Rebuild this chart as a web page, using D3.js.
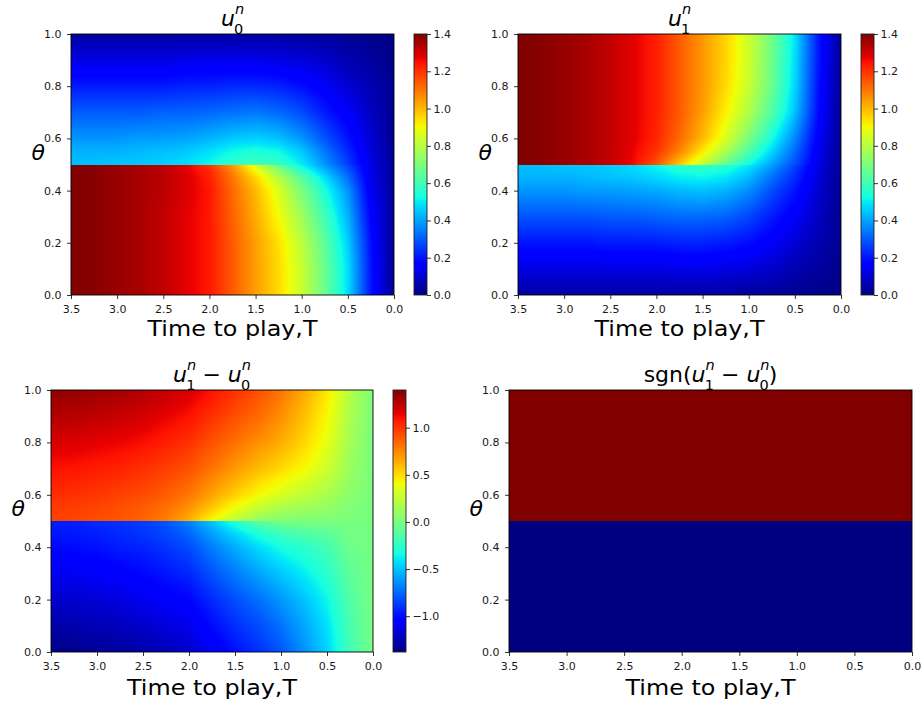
<!DOCTYPE html>
<html><head><meta charset="utf-8">
<script src="https://cdn.jsdelivr.net/npm/d3@7"></script>
<style>
body{margin:0;background:#fff}
svg{display:block}
text{font-family:"DejaVu Sans",sans-serif}
</style>
</head><body>
<svg id="chart" width="922" height="704"></svg>
<script>
// ---------------- data ----------------
const T_NODES = [3.5,3.25,3.0,2.75,2.5,2.25,2.0,1.75,1.5,1.25,1.0,0.75,0.5,0.25,0.0];
const THETA_LOWER = [0,0.1,0.2,0.3,0.4,0.45,0.5];
const THETA_UPPER = [0.5,0.55,0.6,0.7,0.8,0.9,1.0];

// u0 below theta=0.5 (rows follow THETA_LOWER, columns follow T_NODES)
const U0_LOWER = [
  [1.40,1.39,1.37,1.35,1.32,1.28,1.24,1.14,1.04,0.95,0.83,0.67,0.48,0.20,0.02],
  [1.40,1.39,1.37,1.35,1.32,1.28,1.24,1.14,1.04,0.95,0.83,0.67,0.48,0.20,0.02],
  [1.40,1.39,1.37,1.35,1.32,1.28,1.24,1.14,1.04,0.94,0.81,0.65,0.46,0.19,0.02],
  [1.40,1.39,1.37,1.35,1.32,1.28,1.24,1.13,1.02,0.90,0.76,0.60,0.42,0.17,0.03],
  [1.40,1.39,1.37,1.35,1.33,1.29,1.24,1.12,1.00,0.86,0.70,0.54,0.38,0.14,0.03],
  [1.40,1.39,1.37,1.35,1.33,1.29,1.23,1.10,0.96,0.80,0.64,0.48,0.33,0.13,0.03],
  [1.40,1.39,1.37,1.35,1.33,1.28,1.20,1.05,0.86,0.66,0.50,0.38,0.27,0.12,0.03]
];
// u0 above theta=0.5 (rows follow THETA_UPPER)
const U0_UPPER = [
  [0.44,0.44,0.45,0.45,0.46,0.48,0.52,0.57,0.60,0.58,0.50,0.38,0.26,0.12,0.03],
  [0.42,0.42,0.42,0.43,0.44,0.45,0.48,0.52,0.54,0.52,0.45,0.34,0.23,0.11,0.03],
  [0.38,0.38,0.38,0.39,0.39,0.40,0.42,0.45,0.46,0.44,0.38,0.29,0.20,0.10,0.02],
  [0.30,0.30,0.30,0.30,0.31,0.31,0.32,0.33,0.34,0.32,0.28,0.21,0.15,0.08,0.02],
  [0.21,0.21,0.21,0.21,0.21,0.22,0.22,0.23,0.23,0.22,0.19,0.15,0.10,0.06,0.02],
  [0.12,0.12,0.12,0.12,0.12,0.13,0.13,0.13,0.13,0.12,0.11,0.09,0.06,0.04,0.01],
  [0.04,0.04,0.04,0.04,0.04,0.04,0.04,0.04,0.04,0.04,0.03,0.03,0.02,0.01,0.01]
];
// u1 below theta=0.5
const U1_LOWER = [
  [0.04,0.04,0.04,0.04,0.04,0.04,0.04,0.04,0.04,0.04,0.03,0.03,0.02,0.01,0.01],
  [0.12,0.12,0.12,0.12,0.12,0.12,0.12,0.13,0.13,0.12,0.11,0.09,0.06,0.04,0.01],
  [0.20,0.20,0.20,0.20,0.21,0.21,0.21,0.22,0.22,0.21,0.19,0.15,0.10,0.06,0.02],
  [0.29,0.29,0.29,0.29,0.30,0.30,0.31,0.32,0.32,0.31,0.27,0.21,0.15,0.08,0.02],
  [0.38,0.38,0.38,0.39,0.39,0.40,0.41,0.43,0.44,0.42,0.37,0.28,0.20,0.10,0.02],
  [0.42,0.42,0.42,0.43,0.44,0.45,0.47,0.50,0.51,0.49,0.43,0.33,0.23,0.11,0.02],
  [0.44,0.44,0.45,0.45,0.46,0.48,0.52,0.56,0.58,0.56,0.50,0.39,0.27,0.12,0.02]
];
// u1 above theta=0.5
const U1_UPPER = [
  [1.40,1.39,1.37,1.35,1.32,1.26,1.15,0.98,0.82,0.66,0.52,0.40,0.28,0.13,0.02],
  [1.40,1.39,1.37,1.35,1.32,1.27,1.20,1.08,0.93,0.78,0.62,0.47,0.32,0.14,0.02],
  [1.40,1.39,1.37,1.35,1.32,1.28,1.22,1.12,1.00,0.86,0.70,0.53,0.36,0.16,0.02],
  [1.40,1.39,1.37,1.35,1.32,1.28,1.23,1.14,1.04,0.92,0.79,0.63,0.44,0.19,0.02],
  [1.40,1.39,1.37,1.35,1.32,1.28,1.23,1.14,1.05,0.95,0.83,0.67,0.47,0.20,0.02],
  [1.40,1.39,1.37,1.35,1.32,1.28,1.23,1.14,1.05,0.96,0.84,0.68,0.48,0.21,0.02],
  [1.40,1.39,1.37,1.35,1.32,1.28,1.23,1.14,1.05,0.96,0.84,0.68,0.49,0.21,0.02]
];
// sign panel: bands in theta and their values
const SGN_THETA = [0, 0.5, 1.0];
const SGN_VALUES = [-1, 1];

const X_TICKS = [3.5,3.0,2.5,2.0,1.5,1.0,0.5,0.0];
const Y_TICKS = [0.0,0.2,0.4,0.6,0.8,1.0];
const CB_TICKS_U = [0.0,0.2,0.4,0.6,0.8,1.0,1.2,1.4];
const CB_TICKS_DIFF = [-1.0,-0.5,0.0,0.5,1.0];
const U_RANGE = [0, 1.4];
const DIFF_RANGE = [-1.38, 1.40];
const SGN_RANGE = [-1, 1];
const X_LABEL = "Time to play,T";

// ---------------- jet colormap via d3 scales ----------------
const jetR = d3.scaleLinear().domain([0,0.35,0.66,0.89,1]).range([0,0,1,1,0.5]).clamp(true);
const jetG = d3.scaleLinear().domain([0,0.125,0.375,0.64,0.91,1]).range([0,0,1,1,0,0]).clamp(true);
const jetB = d3.scaleLinear().domain([0,0.11,0.34,0.65,1]).range([0.5,1,1,0,0]).clamp(true);
function jet(f){ return [Math.round(jetR(f)*255), Math.round(jetG(f)*255), Math.round(jetB(f)*255)]; }

// field evaluator built from a grid (lower + upper)
function makeField(lower, upper){
  const lowRows = lower.map(r => d3.scaleLinear().domain(T_NODES).range(r));
  const upRows = upper.map(r => d3.scaleLinear().domain(T_NODES).range(r));
  return function column(T){
    const lo = d3.scaleLinear().domain(THETA_LOWER).range(lowRows.map(s => s(T)));
    const up = d3.scaleLinear().domain(THETA_UPPER).range(upRows.map(s => s(T)));
    return th => th < 0.5 ? lo(th) : up(th);
  };
}
const fieldU0 = makeField(U0_LOWER, U0_UPPER);
const fieldU1 = makeField(U1_LOWER, U1_UPPER);
const fieldDiff = T => { const a = fieldU1(T), b = fieldU0(T); return th => a(th) - b(th); };

const svg = d3.select('#chart');
const TICK_COLOR = '#1a1a1a';

function styleAxis(g){
  g.select('.domain').remove();
  g.attr('font-family','DejaVu Sans').attr('font-size',11);
  g.selectAll('text').attr('fill',TICK_COLOR);
  g.selectAll('line').attr('stroke','#000').attr('stroke-width',0.8);
}

function addTitle(parts, cx, baseline){
  const t = svg.append('text').attr('x',cx).attr('y',baseline)
    .attr('text-anchor','middle').attr('font-size',22).attr('fill','#000');
  parts.forEach(p => {
    const s = t.append('tspan').text(p.t)
      .attr('font-style', p.it ? 'italic' : 'normal')
      .attr('font-size', p.sm ? 14.5 : 22);
    if (p.dx) s.attr('dx', p.dx);
    if (p.dy) s.attr('dy', p.dy);
  });
}
function mathU(sub){
  return [
    {t:'u', it:true},
    {t:'n', it:true, sm:true, dy:-12},
    {t:sub, sm:true, dx:-10, dy:20}
  ];
}

function panel(cfg){
  const {x0,x1,y0,y1} = cfg;
  const x = d3.scaleLinear().domain([3.5,0]).range([x0,x1]);
  const y = d3.scaleLinear().domain([0,1]).range([y1,y0]);
  const frac = d3.scaleLinear().domain(cfg.range).range([0,1]).clamp(true);
  const W = Math.round(x1-x0), H = Math.round(y1-y0);

  if (cfg.bands){
    svg.append('g').selectAll('rect').data(SGN_VALUES).join('rect')
      .attr('x', x0).attr('width', x1-x0)
      .attr('y', (d,i) => y(SGN_THETA[i+1]))
      .attr('height', (d,i) => y(SGN_THETA[i]) - y(SGN_THETA[i+1]))
      .attr('fill', d => d3.rgb(...jet(frac(d))).toString());
  } else {
    const cv = document.createElement('canvas');
    cv.width = W; cv.height = H;
    const ctx = cv.getContext('2d');
    const img = ctx.createImageData(W,H);
    for (let i=0;i<W;i++){
      const col = cfg.field(x.invert(x0+i+0.5));
      for (let j=0;j<H;j++){
        const v = col(y.invert(y0+j+0.5));
        const c = jet(frac(v));
        const k = (j*W+i)*4;
        img.data[k]=c[0]; img.data[k+1]=c[1]; img.data[k+2]=c[2]; img.data[k+3]=255;
      }
    }
    ctx.putImageData(img,0,0);
    svg.append('image').attr('x',x0).attr('y',y0).attr('width',W).attr('height',H)
      .attr('preserveAspectRatio','none').attr('href', cv.toDataURL());
  }
  svg.append('rect').attr('x',x0).attr('y',y0).attr('width',x1-x0).attr('height',y1-y0)
    .attr('fill','none').attr('stroke','#000').attr('stroke-width',0.9);

  svg.append('g').attr('transform',`translate(0,${y1})`)
    .call(d3.axisBottom(x).tickValues(X_TICKS).tickFormat(d3.format('.1f')).tickSize(4).tickPadding(6))
    .call(styleAxis);
  svg.append('g').attr('transform',`translate(${x0},0)`)
    .call(d3.axisLeft(y).tickValues(Y_TICKS).tickFormat(d3.format('.1f')).tickSize(4).tickPadding(5.5))
    .call(styleAxis);

  svg.append('text').attr('x',(x0+x1)/2).attr('y',y1+cfg.xlabOff)
    .attr('text-anchor','middle').attr('font-size',21).attr('fill','#000')
    .attr('textLength',170).attr('lengthAdjust','spacingAndGlyphs')
    .text(X_LABEL);
  svg.append('text').attr('x',x0-26).attr('y',(y0+y1)/2-5)
    .attr('text-anchor','end').attr('font-size',22).attr('font-style','italic').attr('fill','#000')
    .text('θ');

  addTitle(cfg.title, (x0+x1)/2, y0-8.5);

  if (cfg.cb){
    const {cx0,cx1,ticks} = cfg.cb;
    const cy = d3.scaleLinear().domain(cfg.range).range([y1,y0]);
    const CW = Math.round(cx1-cx0);
    const cv = document.createElement('canvas');
    cv.width = CW; cv.height = H;
    const ctx = cv.getContext('2d');
    const img = ctx.createImageData(CW,H);
    for (let j=0;j<H;j++){
      const c = jet(frac(cy.invert(y0+j+0.5)));
      for (let i=0;i<CW;i++){
        const k=(j*CW+i)*4;
        img.data[k]=c[0]; img.data[k+1]=c[1]; img.data[k+2]=c[2]; img.data[k+3]=255;
      }
    }
    ctx.putImageData(img,0,0);
    svg.append('image').attr('x',cx0).attr('y',y0).attr('width',CW).attr('height',H)
      .attr('preserveAspectRatio','none').attr('href', cv.toDataURL());
    svg.append('rect').attr('x',cx0).attr('y',y0).attr('width',CW).attr('height',H)
      .attr('fill','none').attr('stroke','#222').attr('stroke-width',0.9);
    svg.append('g').attr('transform',`translate(${cx0+CW},0)`)
      .call(d3.axisRight(cy).tickValues(ticks).tickFormat(d3.format('.1f')).tickSize(4).tickPadding(2.5))
      .call(styleAxis);
  }
}

panel({x0:71, x1:394, y0:34, y1:295, field:fieldU0, range:U_RANGE, xlabOff:41,
  title: mathU('0'), cb:{cx0:414, cx1:427, ticks:CB_TICKS_U}});
panel({x0:518, x1:841, y0:34, y1:295, field:fieldU1, range:U_RANGE, xlabOff:41,
  title: mathU('1'), cb:{cx0:861, cx1:874, ticks:CB_TICKS_U}});
panel({x0:51, x1:373, y0:390, y1:652, field:fieldDiff, range:DIFF_RANGE, xlabOff:43,
  title: [...mathU('1'), {t:' − ', dy:-8}, ...mathU('0')], cb:{cx0:393, cx1:406, ticks:CB_TICKS_DIFF}});
panel({x0:509, x1:912, y0:390, y1:652, bands:true, range:SGN_RANGE, xlabOff:43,
  title: [{t:'sgn('}, ...mathU('1'), {t:' − ', dy:-8}, ...mathU('0'), {t:')', dy:-8}], cb:null});
</script>
</body></html>
